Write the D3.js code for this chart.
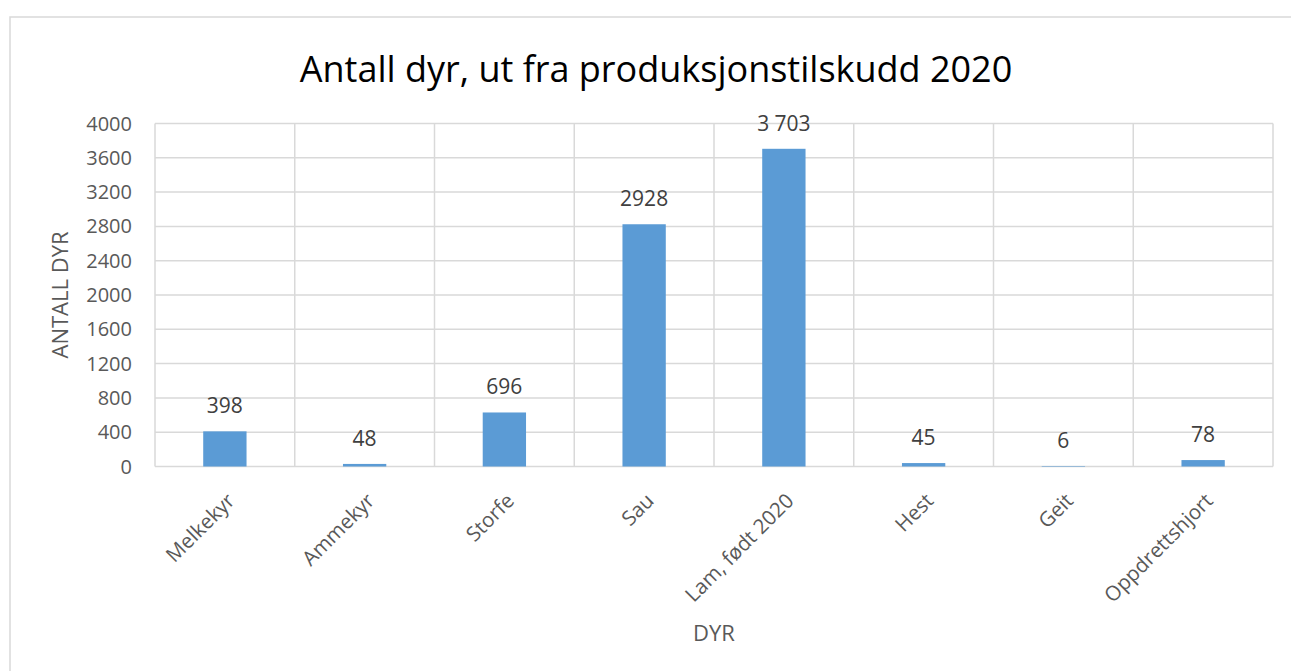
<!DOCTYPE html>
<html>
<head>
<meta charset="utf-8">
<script src="https://cdn.jsdelivr.net/npm/d3@7"></script>
<style>
  body { margin: 0; background: #fff; }
  text { font-family: "Open Sans", sans-serif; }
</style>
</head>
<body>
<script>
// data
var categories = ["Melkekyr", "Ammekyr", "Storfe", "Sau", "Lam, født 2020", "Hest", "Geit", "Oppdrettshjort"];
var barValues = [410, 30, 630, 2825, 3705, 40, 6, 75];
var labelTexts = ["398", "48", "696", "2928", "3 703", "45", "6", "78"];
var yTicks = [0, 400, 800, 1200, 1600, 2000, 2400, 2800, 3200, 3600, 4000];

var width = 1291, height = 671;
var plotLeft = 155, plotRight = 1273, plotTop = 123.5, plotBottom = 466.5;

var svg = d3.select("body")
            .append("svg")
            .attr("width", width)
            .attr("height", height);

// chart frame (runs off the right and bottom edges like the screenshot)
svg.append("rect")
   .attr("x", 10)
   .attr("y", 17)
   .attr("width", 1310)
   .attr("height", 700)
   .attr("fill", "#fff")
   .attr("stroke", "#d9d9d9")
   .attr("stroke-width", 1.5);

var x = d3.scaleBand()
          .domain(categories)
          .range([plotLeft, plotRight])
          .paddingInner(0.69)
          .paddingOuter(0.345);

var y = d3.scaleLinear()
          .domain([0, 4000])
          .range([plotBottom, plotTop]);

// horizontal gridlines
svg.selectAll("line.h")
   .data(yTicks)
   .enter()
   .append("line")
   .attr("x1", plotLeft)
   .attr("x2", plotRight)
   .attr("y1", function(d) {return y(d)})
   .attr("y2", function(d) {return y(d)})
   .attr("stroke", "#d9d9d9")
   .attr("stroke-width", 1.5);

// vertical gridlines between categories
var step = x.step();
svg.selectAll("line.v")
   .data(d3.range(categories.length + 1))
   .enter()
   .append("line")
   .attr("x1", function(d) {return plotLeft + d * step})
   .attr("x2", function(d) {return plotLeft + d * step})
   .attr("y1", plotTop)
   .attr("y2", plotBottom)
   .attr("stroke", "#d9d9d9")
   .attr("stroke-width", 1.5);

// y tick labels
svg.selectAll("text.ytick")
   .data(yTicks)
   .enter()
   .append("text")
   .attr("x", 132)
   .attr("y", function(d) {return y(d)})
   .attr("dy", "0.35em")
   .attr("text-anchor", "end")
   .attr("font-size", 20)
   .attr("fill", "#595959")
   .text(function(d) {return d});

// bars
svg.selectAll("rect.bar")
   .data(barValues)
   .enter()
   .append("rect")
   .attr("x", function(d, i) {return x(categories[i])})
   .attr("width", x.bandwidth())
   .attr("y", function(d) {return y(d)})
   .attr("height", function(d) {return plotBottom - y(d)})
   .attr("fill", "#5b9bd5");

// data labels
svg.selectAll("text.lbl")
   .data(barValues)
   .enter()
   .append("text")
   .attr("x", function(d, i) {return x(categories[i]) + x.bandwidth() / 2})
   .attr("y", function(d) {return y(d) - 18})
   .attr("text-anchor", "middle")
   .attr("font-size", 21)
   .attr("fill", "#404040")
   .text(function(d, i) {return labelTexts[i]});

// category labels, rotated
svg.selectAll("text.cat")
   .data(categories)
   .enter()
   .append("text")
   .attr("transform", function(d) {
     return "translate(" + (x(d) + x.bandwidth() / 2 + 6) + ",497) rotate(-45)";
   })
   .attr("dy", "0.35em")
   .attr("text-anchor", "end")
   .attr("font-size", 20.5)
   .attr("fill", "#595959")
   .text(function(d) {return d});

// title
svg.append("text")
   .attr("x", 656)
   .attr("y", 82)
   .attr("text-anchor", "middle")
   .attr("font-size", 36)
   .attr("fill", "#000")
   .text("Antall dyr, ut fra produksjonstilskudd 2020");

// axis titles
svg.append("text")
   .attr("transform", "translate(68," + ((plotTop + plotBottom) / 2) + ") rotate(-90)")
   .attr("text-anchor", "middle")
   .attr("font-size", 22)
   .attr("fill", "#595959")
   .text("ANTALL DYR");

svg.append("text")
   .attr("x", (plotLeft + plotRight) / 2)
   .attr("y", 641)
   .attr("text-anchor", "middle")
   .attr("font-size", 22)
   .attr("fill", "#595959")
   .text("DYR");
</script>
</body>
</html>
